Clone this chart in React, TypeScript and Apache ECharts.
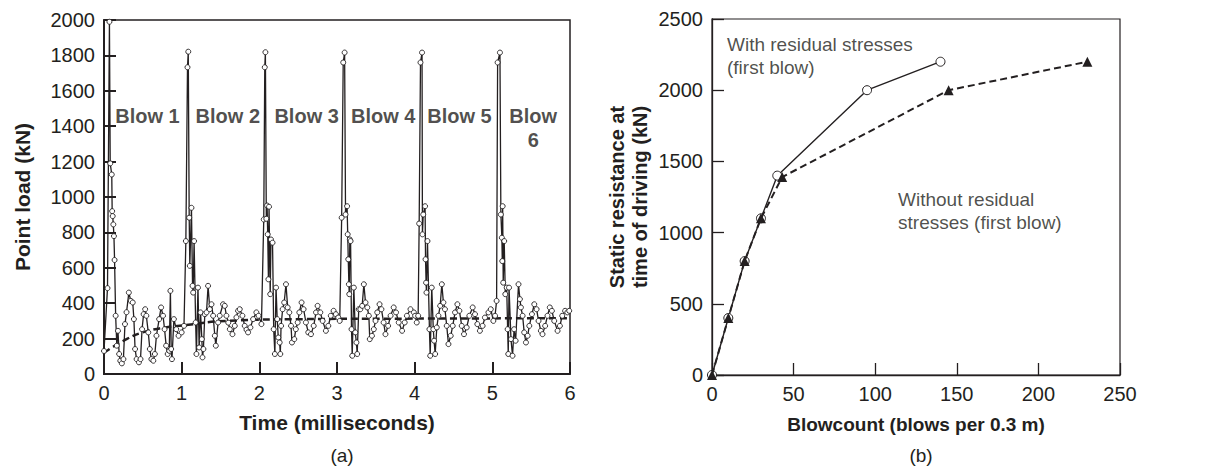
import React, { useEffect, useRef } from "react";
import * as echarts from "echarts";

// ---- Panel (a): point load vs time ----
const blow1: [number, number][] = [
  [0.0, 130], [0.045, 485], [0.07, 1990], [0.08, 1190], [0.1, 1127], [0.105, 920], [0.112, 892],
  [0.12, 845], [0.128, 779], [0.136, 644], [0.15, 329], [0.165, 160], [0.18, 244], [0.195, 113],
  [0.21, 75], [0.23, 60], [0.25, 84], [0.27, 282], [0.29, 349], [0.32, 460], [0.345, 413],
  [0.37, 404], [0.385, 310], [0.4, 141], [0.42, 84], [0.45, 66], [0.47, 84], [0.49, 253],
  [0.51, 338], [0.53, 366], [0.545, 329], [0.57, 235], [0.59, 141], [0.61, 84], [0.635, 75],
  [0.655, 113], [0.675, 216], [0.71, 310], [0.735, 376], [0.76, 329], [0.78, 253], [0.8, 160],
  [0.82, 113], [0.84, 131], [0.855, 470], [0.865, 141], [0.875, 84], [0.9, 310], [0.93, 253],
  [0.96, 216], [1.0, 235], [1.03, 272],
];
const blow2: [number, number][] = [
  [1.054, 751], [1.075, 1733], [1.085, 1821], [1.097, 883], [1.105, 611], [1.126, 939], [1.14, 498],
  [1.148, 460], [1.16, 751], [1.18, 291], [1.19, 113], [1.21, 488], [1.225, 150], [1.243, 348],
  [1.26, 197], [1.268, 94], [1.28, 141], [1.298, 338], [1.32, 348], [1.34, 498], [1.362, 366],
  [1.384, 394], [1.405, 329], [1.427, 216], [1.44, 160], [1.469, 291], [1.49, 329], [1.533, 394],
  [1.555, 385], [1.576, 329], [1.6, 290], [1.62, 253], [1.654, 225], [1.684, 272], [1.705, 320],
  [1.726, 357], [1.748, 366], [1.782, 329], [1.812, 272], [1.835, 250], [1.855, 235], [1.885, 263],
  [1.92, 310], [1.962, 348], [1.99, 329], [2.027, 282],
];
const blow3: [number, number][] = [
  [2.057, 873], [2.07, 1733], [2.078, 1818], [2.09, 877], [2.1, 952], [2.108, 789], [2.117, 535],
  [2.125, 945], [2.14, 451], [2.15, 760], [2.17, 742], [2.185, 253], [2.2, 113], [2.215, 488],
  [2.23, 310], [2.244, 206], [2.262, 178], [2.27, 113], [2.28, 272], [2.3, 366], [2.32, 404],
  [2.343, 507], [2.365, 376], [2.386, 348], [2.408, 272], [2.42, 178], [2.45, 197], [2.47, 253],
  [2.494, 291], [2.515, 348], [2.544, 404], [2.57, 366], [2.6, 291], [2.63, 235], [2.665, 225],
  [2.7, 272], [2.73, 348], [2.75, 385], [2.785, 348], [2.815, 300], [2.857, 244], [2.888, 272],
  [2.92, 329], [2.956, 357], [2.986, 338], [3.016, 319], [3.035, 300],
];
const blow4: [number, number][] = [
  [3.06, 883], [3.08, 1760], [3.098, 1816], [3.11, 901], [3.13, 948], [3.138, 789], [3.145, 648],
  [3.153, 507], [3.158, 451], [3.165, 760], [3.175, 751], [3.187, 253], [3.196, 103], [3.217, 488],
  [3.235, 235], [3.25, 178], [3.26, 113], [3.28, 366], [3.3, 366], [3.324, 385], [3.346, 507],
  [3.367, 404], [3.39, 376], [3.41, 329], [3.422, 197], [3.45, 216], [3.474, 253], [3.496, 300],
  [3.518, 348], [3.548, 394], [3.572, 366], [3.6, 291], [3.624, 225], [3.658, 272], [3.69, 329],
  [3.73, 376], [3.76, 348], [3.795, 291], [3.838, 244], [3.872, 291], [3.9, 329], [3.946, 366],
  [3.99, 348], [4.006, 329], [4.027, 291], [4.045, 329],
];
const blow5: [number, number][] = [
  [4.058, 850], [4.075, 1760], [4.095, 1816], [4.1, 789], [4.11, 901], [4.134, 948], [4.14, 648],
  [4.147, 516], [4.152, 460], [4.165, 751], [4.19, 253], [4.2, 103], [4.22, 488], [4.24, 253],
  [4.25, 188], [4.264, 113], [4.285, 263], [4.306, 329], [4.328, 385], [4.35, 507], [4.37, 404],
  [4.39, 366], [4.413, 272], [4.435, 169], [4.464, 216], [4.49, 272], [4.52, 348], [4.55, 394],
  [4.576, 357], [4.606, 272], [4.635, 225], [4.67, 263], [4.704, 329], [4.747, 376], [4.777, 338],
  [4.807, 282], [4.84, 244], [4.875, 272], [4.905, 319], [4.95, 348], [4.98, 366], [5.013, 300],
  [5.035, 329], [5.055, 413],
];
const blow6: [number, number][] = [
  [5.068, 1760], [5.098, 1816], [5.11, 901], [5.123, 770], [5.128, 638], [5.133, 948], [5.14, 516],
  [5.153, 751], [5.167, 451], [5.185, 488], [5.197, 253], [5.205, 113], [5.215, 488], [5.24, 197],
  [5.26, 103], [5.28, 253], [5.3, 188], [5.337, 507], [5.355, 423], [5.368, 376], [5.39, 329],
  [5.41, 235], [5.433, 178], [5.455, 216], [5.476, 272], [5.51, 338], [5.54, 394], [5.57, 366],
  [5.595, 300], [5.625, 244], [5.646, 225], [5.68, 272], [5.71, 329], [5.74, 376], [5.767, 357],
  [5.797, 300], [5.84, 244], [5.87, 272], [5.9, 329], [5.937, 357], [5.966, 348], [5.99, 357],
];
const pointLoad = [...blow1, ...blow2, ...blow3, ...blow4, ...blow5, ...blow6];

const trendLine: [number, number][] = [
  [0, 120], [0.29, 197], [0.5, 235], [0.75, 260], [1.04, 276], [1.58, 300], [2.6, 310], [4, 313], [6, 315],
];

const blowLabels = ["Blow 1", "Blow 2", "Blow 3", "Blow 4", "Blow 5", "Blow\n6"];
const blowLabelTime = [0.56, 1.594, 2.609, 3.595, 4.576, 5.527];
const blowLabelLoad = [1458, 1458, 1458, 1458, 1458, 1390];

// ---- Panel (b): static resistance vs blowcount ----
const withBlowcount = [0, 10, 20, 30, 40, 95, 140];
const withResistance = [0, 400, 800, 1100, 1400, 2000, 2200];
const withoutBlowcount = [0, 10, 20, 30, 43, 145, 230];
const withoutResistance = [0, 400, 800, 1100, 1390, 2000, 2200];

const notes = ["With residual stresses\n(first blow)", "Without residual\nstresses (first blow)"];
const noteBlowcount = [9.2, 114];
const noteResistance = [2237, 1152];

const FONT = "'Liberation Sans', Arial, Helvetica, sans-serif";
const INK = "#231f20";

export default function App() {
  const ref = useRef<HTMLDivElement>(null);

  useEffect(() => {
    if (!ref.current) return;
    const chart = echarts.init(ref.current, undefined, { renderer: "svg" });

    const axisCommon = (lw: number, nameSize: number) => ({
      axisLine: { show: true, lineStyle: { color: INK, width: lw } },
      axisTick: { show: true, inside: true, length: 12, lineStyle: { color: INK, width: lw } },
      splitLine: { show: false },
      axisLabel: { color: INK, fontSize: 20, fontFamily: FONT, margin: 9, formatter: (v: number) => String(v) },
      nameTextStyle: { color: INK, fontSize: nameSize, fontWeight: "bold", fontFamily: FONT, lineHeight: 23 },
      nameLocation: "middle" as const,
    });

    chart.setOption({
      animation: false,
      backgroundColor: "#fff",
      textStyle: { fontFamily: FONT, color: INK },
      title: [
        { text: "(a)", left: 337, top: 441, textAlign: "center", textStyle: { fontSize: 19, fontWeight: "normal", color: INK, fontFamily: FONT } },
        { text: "(b)", left: 916, top: 441, textAlign: "center", textStyle: { fontSize: 19, fontWeight: "normal", color: INK, fontFamily: FONT } },
      ],
      grid: [
        { left: 104, right: 637, top: 20, bottom: 95, show: true, borderColor: INK, borderWidth: 1.5, backgroundColor: "transparent" },
        { left: 712, right: 87, top: 19, bottom: 94, show: true, borderColor: INK, borderWidth: 1.2, backgroundColor: "transparent" },
      ],
      xAxis: [
        { type: "value", gridIndex: 0, min: 0, max: 6, interval: 1, name: "Time (milliseconds)", nameGap: 37, ...axisCommon(2, 21) },
        { type: "value", gridIndex: 1, min: 0, max: 250, interval: 50, name: "Blowcount (blows per 0.3 m)", nameGap: 38, ...axisCommon(1.3, 19) },
      ],
      yAxis: [
        { type: "value", gridIndex: 0, min: 0, max: 2000, interval: 200, name: "Point load (kN)", nameGap: 70, ...axisCommon(2, 21) },
        {
          type: "value", gridIndex: 1, min: 0, max: 2500, interval: 500,
          name: "Static resistance at\ntime of driving (kN)", nameGap: 61, ...axisCommon(1.3, 20),
        },
      ],
      series: [
        {
          type: "line", xAxisIndex: 0, yAxisIndex: 0, data: trendLine, smooth: true, showSymbol: false,
          lineStyle: { color: INK, width: 2.5, type: [7, 4] }, z: 1, silent: true,
        },
        {
          type: "line", xAxisIndex: 0, yAxisIndex: 0, data: pointLoad, symbol: "circle", symbolSize: 5,
          showAllSymbol: true, clip: false,
          lineStyle: { color: INK, width: 1.3 },
          itemStyle: { color: "#fff", borderColor: INK, borderWidth: 0.9 }, z: 2, silent: true,
        },
        {
          type: "scatter", xAxisIndex: 0, yAxisIndex: 0, symbolSize: 0, silent: true, z: 5,
          data: blowLabels.map((n, i) => ({ name: n, value: [blowLabelTime[i], blowLabelLoad[i]] })),
          label: {
            show: true, position: "inside", formatter: "{b}", fontSize: 20, fontWeight: "bold",
            color: INK, fontFamily: FONT, lineHeight: 24, align: "center", verticalAlign: "middle",
          },
        },
        {
          type: "line", xAxisIndex: 1, yAxisIndex: 1,
          data: withBlowcount.map((b, i) => [b, withResistance[i]]),
          symbol: "circle", symbolSize: 9, clip: false,
          lineStyle: { color: INK, width: 1.4 },
          itemStyle: { color: "#fff", borderColor: INK, borderWidth: 1 }, z: 2, silent: true,
        },
        {
          type: "line", xAxisIndex: 1, yAxisIndex: 1,
          data: withoutBlowcount.map((b, i) => [b, withoutResistance[i]]),
          symbol: "triangle", symbolSize: 10, clip: false,
          lineStyle: { color: INK, width: 2, type: [7, 4] },
          itemStyle: { color: INK }, z: 3, silent: true,
        },
        {
          type: "scatter", xAxisIndex: 1, yAxisIndex: 1, symbolSize: 0, silent: true, z: 5,
          data: notes.map((n, i) => ({ name: n, value: [noteBlowcount[i], noteResistance[i]] })),
          label: {
            show: true, position: "inside", formatter: "{b}", fontSize: 19, color: INK,
            fontFamily: FONT, lineHeight: 23, align: "left", verticalAlign: "middle",
          },
        },
      ],
    });

    return () => chart.dispose();
  }, []);

  return <div ref={ref} style={{ position: "absolute", left: 0, top: 0, width: 1207, height: 469 }} />;
}
